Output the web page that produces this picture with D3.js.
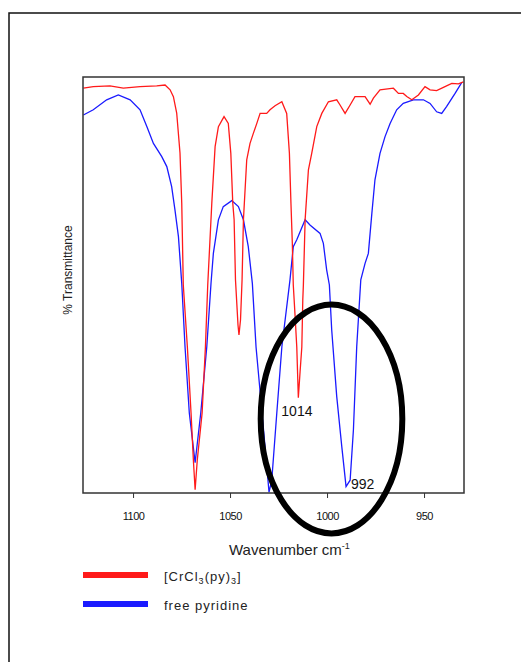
<!DOCTYPE html>
<html>
<head>
<meta charset="utf-8">
<script src="https://cdn.jsdelivr.net/npm/d3@7"></script>
<style>
  body { margin: 0; background: #fff; }
  svg { display: block; font-family: "Liberation Sans", Arial, sans-serif; }
</style>
</head>
<body>
<div id="chart"></div>
<script>
'use strict';

// spectrum of the complex (wavenumber, % transmittance)
let complexWn = [1125.6, 1120.5, 1111.9, 1105.0, 1096.4, 1087.8, 1083.5, 1080.9, 1079.2, 1077.5,
    1075.8, 1074.9, 1074.1, 1072.0, 1070.1, 1068.9, 1068.0, 1066.9, 1064.4, 1062.7,
    1061.5, 1059.4, 1057.7, 1056.0, 1053.1, 1050.9, 1049.6, 1048.6, 1047.9, 1047.2,
    1045.9, 1045.4, 1044.6, 1043.8, 1043.1, 1041.4, 1039.7, 1038.0, 1036.2, 1034.5,
    1031.1, 1029.4, 1026.8, 1023.3, 1020.8, 1019.4, 1018.6, 1017.9, 1017.4, 1016.5,
    1015.6, 1014.8, 1013.9, 1013.0, 1012.5, 1012.2, 1011.3, 1009.6, 1007.9, 1005.3,
    1002.7, 999.3, 995.0, 993.3, 990.7, 988.1, 985.6, 980.4, 977.8, 976.1,
    972.7, 965.8, 963.2, 960.7, 958.9, 956.3, 952.9, 949.5, 946.9, 943.5,
    939.2, 935.7, 932.3, 929.7];
let complexT = [101.2, 101.6, 101.8, 101.2, 101.6, 101.8, 102.0, 100.8, 99.1, 95.0,
    85.0, 72.5, 52.0, 36.5, 20.0, 8.2, 0.8, 8.2, 20.0, 36.5,
    52.0, 72.5, 86.6, 91.6, 94.1, 92.4, 84.9, 72.5, 68.3, 53.3,
    42.0, 39.5, 43.3, 53.3, 68.3, 83.3, 87.4, 89.9, 92.4, 94.9,
    94.9, 95.8, 96.8, 97.8, 94.9, 84.9, 72.4, 62.5, 52.0, 44.5,
    36.5, 23.8, 30.3, 36.5, 48.3, 52.0, 68.3, 80.8, 84.9, 91.6,
    94.9, 97.8, 98.3, 97.0, 94.9, 97.0, 99.1, 99.1, 97.2, 98.7,
    100.8, 101.2, 99.9, 99.9, 99.1, 98.3, 99.5, 101.6, 100.8, 100.6,
    101.6, 102.4, 102.3, 102.8];

// free pyridine
let pyWn = [1125.6, 1120.5, 1113.6, 1107.6, 1101.5, 1096.4, 1092.9, 1089.5, 1085.2, 1082.6,
    1080.1, 1078.4, 1076.6, 1074.9, 1073.2, 1071.0, 1068.0, 1065.1, 1062.0, 1059.8,
    1058.6, 1056.0, 1053.5, 1049.1, 1045.7, 1043.1, 1040.6, 1038.5, 1036.6, 1033.5,
    1029.9, 1028.5, 1025.9, 1023.3, 1019.1, 1017.4, 1015.6, 1011.3, 1008.8, 1003.6,
    1001.9, 1000.2, 998.8, 997.6, 995.0, 992.4, 990.2, 988.1, 986.4, 984.7,
    982.6, 980.4, 978.7, 976.9, 975.3, 972.7, 970.1, 967.5, 964.1, 960.7,
    955.5, 950.3, 946.9, 943.5, 940.9, 938.4, 934.0, 930.6];
let pyT = [94.5, 95.8, 98.3, 99.5, 98.3, 95.8, 91.6, 87.4, 84.1, 81.6,
    76.6, 70.8, 64.1, 52.4, 36.5, 20.0, 7.6, 20.0, 36.5, 52.5,
    59.9, 68.3, 71.6, 73.1, 71.6, 68.3, 61.6, 52.4, 36.5, 20.0,
    0.2, 3.2, 20.0, 36.5, 53.3, 61.6, 63.3, 68.3, 67.0, 64.9,
    62.4, 55.8, 52.0, 40.8, 24.1, 11.6, 1.6, 3.2, 15.8, 36.6,
    53.3, 57.4, 59.9, 69.9, 78.3, 84.9, 89.1, 92.4, 95.8, 97.4,
    98.3, 98.3, 97.4, 95.3, 94.9, 96.6, 99.9, 102.6];

let xTicks = [1100, 1050, 1000, 950];
let seriesNames = ['[CrCl3(py)3]', 'free pyridine'];
let peakLabels = [{text: '1014', wn: 1014.8, t: 23.8}, {text: '992', wn: 990.2, t: 1.6}];

let width = 521,
    height = 662,
    margin = {top: 77, right: 57, bottom: 169, left: 83};

let svg = d3.select('#chart').append('svg')
    .attr('width', width)
    .attr('height', height);

// outer border of the figure
svg.append('rect')
    .attr('x', 9).attr('y', 13)
    .attr('width', 530).attr('height', 670)
    .attr('fill', 'none')
    .attr('stroke', '#111')
    .attr('stroke-width', 1.5);

let x = d3.scaleLinear().domain([1125.8, 929.4]).range([margin.left, width - margin.right]);
let y = d3.scaleLinear().domain([0, 104]).range([height - margin.bottom, margin.top]);

let line = d3.line()
    .x(function(d) { return x(d[0]); })
    .y(function(d) { return y(d[1]); });

let g = svg.append('g');

g.append('path')
    .datum(d3.zip(pyWn, pyT))
    .attr('d', line)
    .attr('fill', 'none')
    .attr('stroke', '#1a1aff')
    .attr('stroke-width', 1.3);

g.append('path')
    .datum(d3.zip(complexWn, complexT))
    .attr('d', line)
    .attr('fill', 'none')
    .attr('stroke', '#ff1a1a')
    .attr('stroke-width', 1.3);

// frame
svg.append('rect')
    .attr('x', x.range()[0]).attr('y', y.range()[1])
    .attr('width', x.range()[1] - x.range()[0])
    .attr('height', y.range()[0] - y.range()[1])
    .attr('fill', 'none')
    .attr('stroke', '#333')
    .attr('stroke-width', 1.5);

let xAxis = d3.axisBottom(x)
    .tickValues(xTicks)
    .tickFormat(d3.format('d'))
    .tickSize(5)
    .tickPadding(14);
let gX = svg.append('g')
    .attr('transform', 'translate(0,' + y.range()[0] + ')')
    .call(xAxis);
gX.select('.domain').remove();
gX.selectAll('line').attr('stroke', '#333');
gX.selectAll('text')
    .style('font-size', '11px')
    .style('letter-spacing', '-0.5px')
    .attr('fill', '#111');

// axis titles
let xt = svg.append('text')
    .attr('x', 229).attr('y', 555)
    .style('font-size', '15px')
    .attr('fill', '#222');
xt.append('tspan').text('Wavenumber cm');
xt.append('tspan').attr('dy', -6).style('font-size', '9px').text('-1');

svg.append('text')
    .attr('transform', 'translate(72,' + ((y.range()[0] + y.range()[1]) / 2 - 15) + ') rotate(-90)')
    .attr('text-anchor', 'middle')
    .style('font-size', '12px')
    .attr('fill', '#222')
    .text('% Transmittance');

// peak labels
svg.selectAll('.peak')
    .data(peakLabels)
    .enter().append('text')
    .attr('class', 'peak')
    .attr('x', function(d, i) { return x(d.wn) + (i === 0 ? -17 : 5); })
    .attr('y', function(d, i) { return y(d.t) + (i === 0 ? 18 : 2); })
    .style('font-size', '14px')
    .attr('fill', '#111')
    .text(function(d) { return d.text; });

// highlight ellipse around the shifted band
svg.append('ellipse')
    .attr('cx', x(997.7))
    .attr('cy', y(18.5))
    .attr('rx', x(1000) - x(1036.5))
    .attr('ry', y(0) - y(28.6))
    .attr('fill', 'none')
    .attr('stroke', '#000')
    .attr('stroke-width', 6);

// legend
let colors = ['#ff1a1a', '#1a1aff'];
let legend = svg.selectAll('.legend')
    .data(seriesNames)
    .enter().append('g')
    .attr('class', 'legend')
    .attr('transform', function(d, i) { return 'translate(83,' + (575 + i * 29) + ')'; });

legend.append('line')
    .attr('x1', 0).attr('x2', 65)
    .attr('stroke', function(d, i) { return colors[i]; })
    .attr('stroke-width', 6);

let lt = legend.append('text')
    .attr('x', 81).attr('y', 6)
    .style('font-size', '13px')
    .style('letter-spacing', '1px')
    .attr('fill', '#222');

lt.each(function(d) {
    let t = d3.select(this);
    if (d === 'free pyridine') {
        t.text(d);
        return;
    }
    t.append('tspan').text('[CrCl');
    t.append('tspan').attr('dy', 3).style('font-size', '9px').text('3');
    t.append('tspan').attr('dy', -3).text('(py)');
    t.append('tspan').attr('dy', 3).style('font-size', '9px').text('3');
    t.append('tspan').attr('dy', -3).text(']');
});
</script>
</body>
</html>
